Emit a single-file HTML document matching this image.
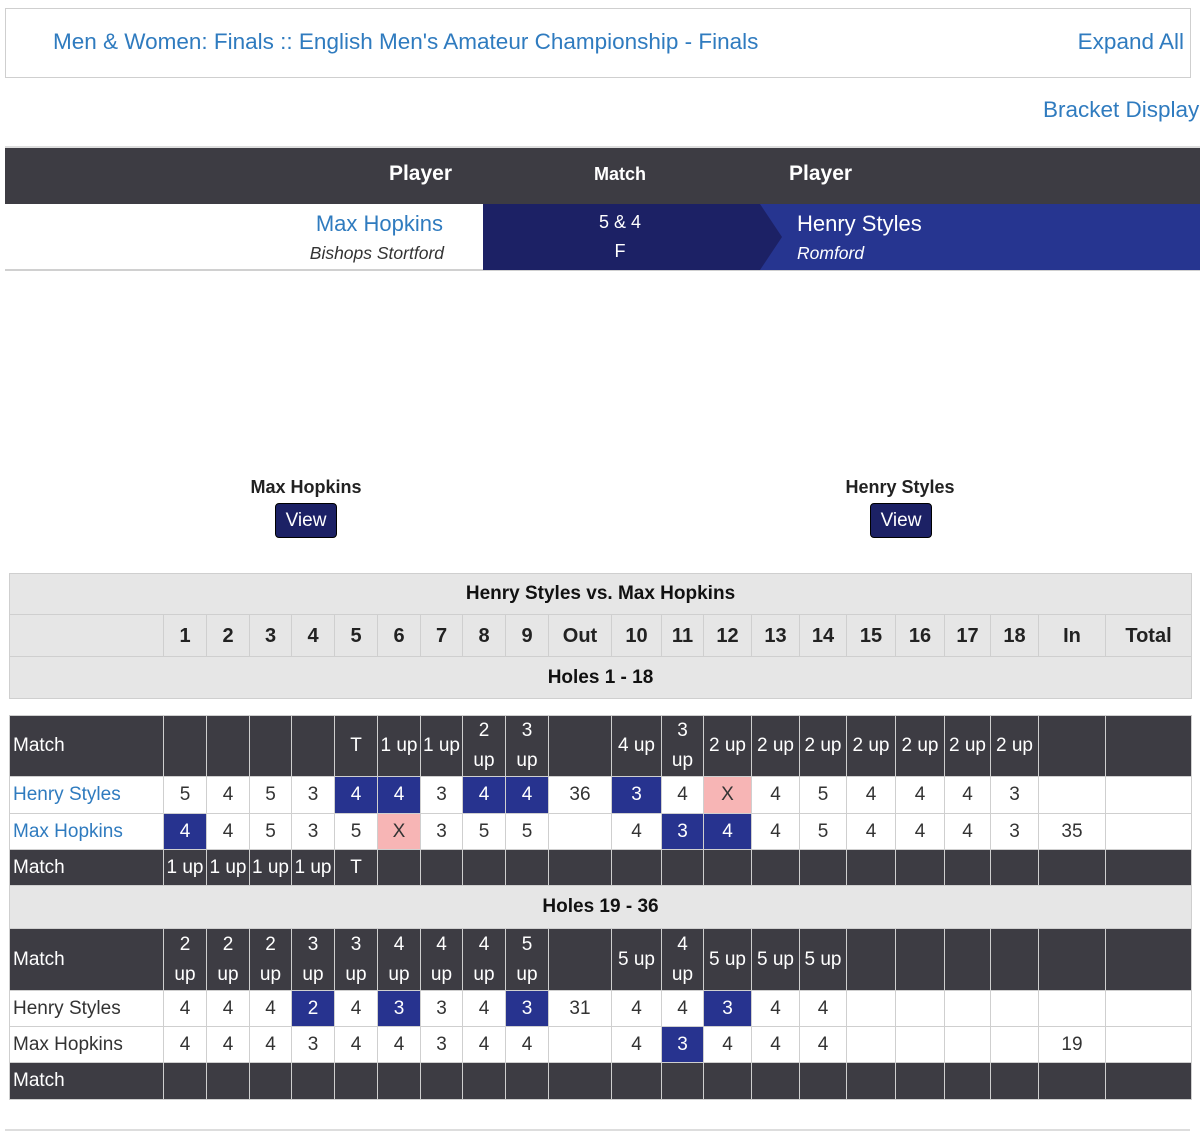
<!DOCTYPE html>
<html><head><meta charset="utf-8"><style>
body{margin:0;width:1200px;height:1133px;position:relative;overflow:hidden;background:#fff;font-family:"Liberation Sans",sans-serif;}
.a{position:absolute;}
.c{position:absolute;box-sizing:border-box;border:1px solid #cfcfcf;display:flex;align-items:center;justify-content:center;text-align:center;font-size:19px;line-height:30px;white-space:pre-line;color:#333;}
.lnk{color:#2f7bbf;}
</style></head><body>
<div class="a" style="left:5px;top:8px;width:1184px;height:68px;border:1px solid #cfcfcf;"></div>
<div class="a lnk" style="left:53px;top:29px;font-size:22.5px;white-space:nowrap;">Men &amp; Women: Finals :: English Men's Amateur Championship - Finals</div>
<div class="a lnk" style="right:16px;top:29px;font-size:22.5px;">Expand All</div>
<div class="a lnk" style="left:1043px;top:97px;font-size:22.5px;white-space:nowrap;">Bracket Display</div>

<div class="a" style="left:5px;top:146px;width:1195px;height:58px;background:#3d3c43;border-top:2px solid #ddd;box-sizing:border-box;"></div>
<div class="a" style="right:748px;top:162px;color:#fff;font-weight:bold;font-size:21px;">Player</div>
<div class="a" style="left:570px;width:100px;text-align:center;top:164px;color:#fff;font-weight:bold;font-size:18px;">Match</div>
<div class="a" style="left:789px;top:162px;color:#fff;font-weight:bold;font-size:21px;">Player</div>

<div class="a" style="left:5px;top:269px;width:1195px;height:2px;background:#d0d0d0;"></div>
<div class="a lnk" style="right:757px;top:211px;font-size:22px;">Max Hopkins</div>
<div class="a" style="right:756px;top:243px;font-size:17.5px;font-style:italic;color:#333;">Bishops Stortford</div>
<svg class="a" style="left:483px;top:204px" width="717" height="66">
<rect x="0" y="0" width="717" height="66" fill="#263590"/>
<polygon points="0,0 277,0 299,33 277,66 0,66" fill="#1c2165"/>
</svg>
<div class="a" style="left:570px;width:100px;text-align:center;top:212px;color:#fff;font-size:18px;">5 &amp; 4</div>
<div class="a" style="left:570px;width:100px;text-align:center;top:241px;color:#fff;font-size:18px;">F</div>
<div class="a" style="left:797px;top:211px;color:#fff;font-size:22px;">Henry Styles</div>
<div class="a" style="left:797px;top:243px;color:#fff;font-size:17.5px;font-style:italic;">Romford</div>

<div class="a" style="left:206px;width:200px;text-align:center;top:477px;font-weight:bold;font-size:18px;color:#222;">Max Hopkins</div>
<div class="a" style="left:275px;top:503px;width:62px;height:35px;box-sizing:border-box;background:#1c2165;border:1px solid #000;border-radius:4px;color:#fff;font-size:19px;text-align:center;line-height:33px;">View</div>
<div class="a" style="left:800px;width:200px;text-align:center;top:477px;font-weight:bold;font-size:18px;color:#222;">Henry Styles</div>
<div class="a" style="left:870px;top:503px;width:62px;height:35px;box-sizing:border-box;background:#1c2165;border:1px solid #000;border-radius:4px;color:#fff;font-size:19px;text-align:center;line-height:33px;">View</div>

<div id="card"></div>
<div class="a" style="left:5px;top:1129px;width:1185px;height:2px;background:#ddd;"></div>

<script>
const holeLabels=["","1","2","3","4","5","6","7","8","9","Out","10","11","12","13","14","15","16","17","18","In","Total"];
const m1top=["Match","","","","","T","1 up","1 up","2\nup","3\nup","","4 up","3\nup","2 up","2 up","2 up","2 up","2 up","2 up","2 up","",""];
const hs1=["Henry Styles","5","4","5","3","4","4","3","4","4","36","3","4","X","4","5","4","4","4","3","",""];
const hs1Mark=["","","","","","b","b","","b","b","","b","","p","","","","","","","",""];
const mh1=["Max Hopkins","4","4","5","3","5","X","3","5","5","","4","3","4","4","5","4","4","4","3","35",""];
const mh1Mark=["","b","","","","","p","","","","","","b","b","","","","","","","",""];
const m1bot=["Match","1 up","1 up","1 up","1 up","T","","","","","","","","","","","","","","","",""];
const m2top=["Match","2\nup","2\nup","2\nup","3\nup","3\nup","4\nup","4\nup","4\nup","5\nup","","5 up","4\nup","5 up","5 up","5 up","","","","","",""];
const hs2=["Henry Styles","4","4","4","2","4","3","3","4","3","31","4","4","3","4","4","","","","","",""];
const hs2Mark=["","","","","b","","b","","","b","","","","b","","","","","","","",""];
const mh2=["Max Hopkins","4","4","4","3","4","4","3","4","4","","4","3","4","4","4","","","","","19",""];
const mh2Mark=["","","","","","","","","","","","","b","","","","","","","","",""];
const m2bot=["Match","","","","","","","","","","","","","","","","","","","","",""];
const edges=[9,163,206,249,291,334,377,420,462,505,548,611,661,703,751,799,846,895,944,990,1038,1105,1191];
const card=document.getElementById('card');
function cell(x,y,w,h,txt,bg,color,extra){
  const d=document.createElement('div');
  d.className='c';
  d.style.cssText+=`left:${x}px;top:${y}px;width:${w+1}px;height:${h+1}px;background:${bg};color:${color};`+(extra||'');
  d.textContent=txt;
  card.appendChild(d);return d;
}
function full(y,h,txt,name){
  const d=cell(edges[0],y,edges[22]-edges[0],h,txt,'#e6e6e6','#111','font-weight:bold;font-size:19px;');
  
  
}
function row(y,h,vals,kind,marks,name,link){
  for(let i=0;i<22;i++){
    const x=edges[i],w=edges[i+1]-edges[i];
    let bg='#fff',col='#333',ex='';
    if(kind==='dark'){bg='#3d3c43';col='#fff';}
    if(kind==='head'){bg='#e6e6e6';col='#222';ex='font-weight:bold;font-size:20px;';}
    if(marks&&marks[i]==='b'){bg='#27338f';col='#fff';}
    if(marks&&marks[i]==='p'){bg='#f7b5b5';col='#333';}
    if(i===0&&kind!=='head'){ex+='justify-content:flex-start;padding-left:3px;';if(link)col='#2f7bbf';}
    const d=cell(x,y,w,h,vals[i],bg,col,ex);
    
    
  }
}
full(573,41,"Henry Styles vs. Max Hopkins","scorecard-title");
row(614,42,holeLabels,'head',null,'hole-number');
full(656,42,"Holes 1 - 18","holes-1-18-heading");
row(715,61,m1top,'dark',null,'match-status-top-1');
row(776,37,hs1,'white',hs1Mark,'henry-styles-front',true);
row(813,36,mh1,'white',mh1Mark,'max-hopkins-front',true);
row(849,36,m1bot,'dark',null,'match-status-bottom-1');
full(885,43,"Holes 19 - 36","holes-19-36-heading");
row(928,62,m2top,'dark',null,'match-status-top-2');
row(990,36,hs2,'white',hs2Mark,'henry-styles-back',false);
row(1026,36,mh2,'white',mh2Mark,'max-hopkins-back',false);
row(1062,37,m2bot,'dark',null,'match-status-bottom-2');
</script>
</body></html>
